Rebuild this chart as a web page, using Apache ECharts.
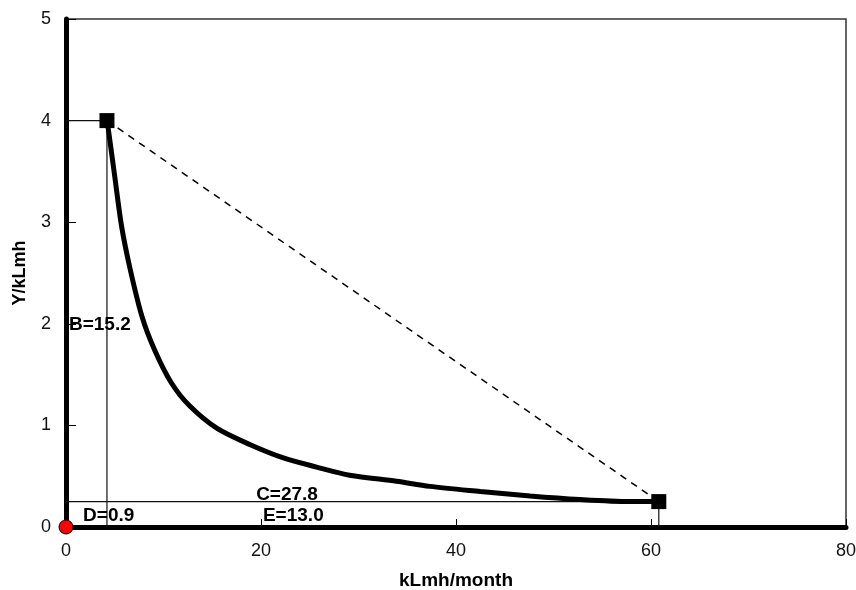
<!DOCTYPE html>
<html>
<head>
<meta charset="utf-8">
<script src="https://cdn.jsdelivr.net/npm/echarts@6/dist/echarts.min.js"></script>
<style>
  html, body { margin: 0; padding: 0; background: #fff; }
  #main { width: 856px; height: 590px; }
</style>
</head>
<body>
<div id="main"></div>
<script>
// 曲线数据
const curveX = [4.2, 4.35, 5.0, 5.7, 6.6, 7.8, 9.1, 10.8, 12.7, 15.5, 18.9, 22.3, 25.7, 29.1, 33.9, 37.3, 42.5, 47.6, 52.7, 57.8, 60.8];
const curveY = [4.0, 3.91, 3.45, 2.96, 2.53, 2.07, 1.74, 1.42, 1.19, 0.97, 0.81, 0.68, 0.59, 0.51, 0.45, 0.40, 0.35, 0.305, 0.27, 0.25, 0.25];

// 两个端点
const endX = [4.2, 60.8];
const endY = [4.0, 0.25];

// 标注
const noteText = ['B=15.2', 'C=27.8', 'D=0.9', 'E=13.0'];
const noteX = [0.3, 19.5, 1.75, 20.2];
const noteY = [1.99, 0.315, 0.11, 0.11];

const xTicks = [0, 20, 40, 60, 80];
const yTicks = [0, 1, 2, 3, 4, 5];

const zip = (a, b) => a.map((v, i) => [v, b[i]]);

let chart = echarts.init(document.getElementById('main'));

const thin = {
    type: 'line',
    symbol: 'none',
    silent: true,
    lineStyle: { color: '#111', width: 1.2 },
    z: 2
};

chart.setOption({
    animation: false,
    backgroundColor: '#fff',
    textStyle: { fontFamily: 'Liberation Sans, Arial, sans-serif' },
    grid: {
        left: 66, right: 10, top: 19, bottom: 63,
        outerBoundsMode: 'none',
        containLabel: false,
        show: true,
        borderColor: '#333',
        borderWidth: 1.5,
        backgroundColor: 'transparent'
    },
    xAxis: {
        type: 'value',
        min: xTicks[0],
        max: xTicks[xTicks.length - 1],
        interval: 20,
        name: 'kLmh/month',
        nameLocation: 'middle',
        nameGap: 44,
        nameTextStyle: { fontSize: 19, fontWeight: 'bold', color: '#000' },
        axisLine: { show: true, lineStyle: { color: '#000', width: 5 } },
        axisTick: { show: true, inside: true, length: 8, lineStyle: { color: '#000', width: 1 } },
        axisLabel: { fontSize: 18, color: '#111', margin: 15 },
        splitLine: { show: false }
    },
    yAxis: {
        type: 'value',
        min: yTicks[0],
        max: yTicks[yTicks.length - 1],
        interval: 1,
        name: 'Y/kLmh',
        nameLocation: 'middle',
        nameGap: 37,
        nameTextStyle: { fontSize: 18, fontWeight: 'bold', color: '#000' },
        axisLine: { show: true, lineStyle: { color: '#000', width: 5 } },
        axisTick: { show: true, inside: true, length: 10, lineStyle: { color: '#000', width: 1 } },
        axisLabel: { fontSize: 18, color: '#111', margin: 15 },
        splitLine: { show: false }
    },
    series: [
        // 辅助线
        Object.assign({}, thin, { data: [[0, endY[0]], [endX[0], endY[0]], [endX[0], 0]] }),
        Object.assign({}, thin, { data: [[0, endY[1]], [endX[1], endY[1]], [endX[1], 0]] }),
        // 虚线
        {
            type: 'line',
            symbol: 'none',
            data: zip(endX, endY),
            lineStyle: { color: '#000', width: 1.5, type: [7, 6] },
            z: 3
        },
        // 主曲线
        {
            type: 'line',
            symbol: 'none',
            smooth: 0.3,
            data: zip(curveX, curveY),
            lineStyle: { color: '#000', width: 5 },
            z: 4
        },
        // 端点
        {
            type: 'scatter',
            symbol: 'rect',
            symbolSize: 15,
            data: zip(endX, endY),
            itemStyle: { color: '#000', opacity: 1 },
            z: 5
        },
        // 原点
        {
            type: 'scatter',
            symbol: 'circle',
            symbolSize: 14,
            clip: false,
            data: [[0, 0]],
            itemStyle: { color: '#ff0000', borderColor: '#000', borderWidth: 1, opacity: 1 },
            z: 6
        },
        // 文字标注
        {
            type: 'scatter',
            symbolSize: 0,
            silent: true,
            data: noteText.map((t, i) => ({ value: [noteX[i], noteY[i]], name: t })),
            itemStyle: { opacity: 1 },
            label: {
                show: true,
                position: 'right',
                distance: 0,
                formatter: (p) => p.name,
                fontSize: 19,
                fontWeight: 'bold',
                color: '#000'
            },
            z: 7
        }
    ]
});
</script>
</body>
</html>
